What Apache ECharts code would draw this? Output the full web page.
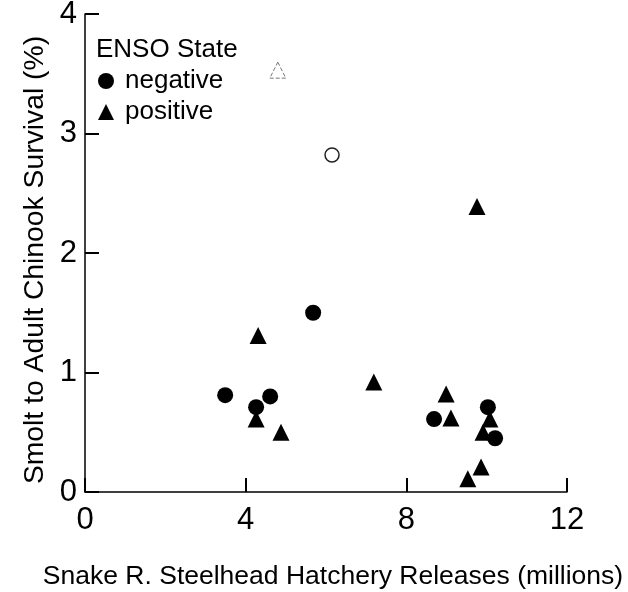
<!DOCTYPE html>
<html>
<head>
<meta charset="utf-8">
<script src="https://cdn.jsdelivr.net/npm/echarts@6/dist/echarts.min.js"></script>
<style>
  html, body { margin: 0; padding: 0; background: #fff; }
  #chart { width: 628px; height: 592px; }
</style>
</head>
<body>
<div id="chart"></div>
<script>
// releases (millions) and survival (%)
var negX = [3.49, 4.26, 4.61, 5.68, 8.69, 10.03, 10.21];
var negY = [0.81, 0.71, 0.80, 1.50, 0.61, 0.71, 0.45];
var posX = [4.31, 4.26, 4.88, 7.19, 8.99, 9.11, 9.76, 9.86, 9.53, 10.08, 9.91];
var posY = [1.31, 0.61, 0.50, 0.92, 0.82, 0.62, 2.39, 0.21, 0.11, 0.61, 0.50];
// open (hollow) points
var openCircle = [[6.15, 2.82]];
var openTriangle = [[4.80, 3.53]];

function pairs(xs, ys) {
  return xs.map(function (x, i) { return [x, ys[i]]; });
}

var font = 'Liberation Sans, Arial, sans-serif';
var myChart = echarts.init(document.getElementById('chart'));

myChart.setOption({
  animation: false,
  textStyle: { fontFamily: font, color: '#000' },
  grid: { left: 85, right: 61, top: 14, bottom: 100, containLabel: false, outerBoundsMode: 'none' },
  title: {
    text: 'ENSO State',
    left: 91, top: 32,
    textStyle: { fontFamily: font, fontSize: 26, fontWeight: 'normal', color: '#000' }
  },
  legend: {
    orient: 'vertical',
    left: 93, top: 63,
    itemWidth: 16, itemHeight: 16, itemGap: 5,
    textStyle: { fontFamily: font, fontSize: 26, color: '#000', padding: [0, 0, 0, 6] },
    data: [
      { name: 'negative', icon: 'circle' },
      { name: 'positive', icon: 'triangle' }
    ]
  },
  xAxis: {
    type: 'value',
    min: 0, max: 12, interval: 4,
    name: 'Snake R. Steelhead Hatchery Releases (millions)',
    nameLocation: 'middle', nameGap: 71,
    nameTextStyle: { fontFamily: font, fontSize: 26.5, color: '#000', padding: [0, 0, 0, 14] },
    axisLine: { lineStyle: { color: '#000', width: 1.5 } },
    axisTick: { inside: true, length: 14, lineStyle: { color: '#000', width: 2 } },
    axisLabel: { fontSize: 31, color: '#000', margin: 13 },
    splitLine: { show: false }
  },
  yAxis: {
    type: 'value',
    min: 0, max: 4, interval: 1,
    name: 'Smolt to Adult Chinook Survival (%)',
    nameLocation: 'middle', nameGap: 36,
    nameTextStyle: { fontFamily: font, fontSize: 28.3, color: '#000', padding: [0, 14, 0, 0] },
    axisLine: { show: true, lineStyle: { color: '#000', width: 1.5 } },
    axisTick: { show: true, inside: true, length: 14, lineStyle: { color: '#000', width: 2 } },
    axisLabel: { fontSize: 31, color: '#000', margin: 8 },
    splitLine: { show: false }
  },
  series: [
    {
      name: 'negative', type: 'scatter', symbol: 'circle', symbolSize: 16,
      itemStyle: { color: '#000', opacity: 1 },
      data: pairs(negX, negY)
    },
    {
      name: 'positive', type: 'scatter', symbol: 'triangle', symbolSize: 17,
      itemStyle: { color: '#000', opacity: 1 },
      data: pairs(posX, posY)
    },
    {
      name: 'open circle', type: 'scatter', symbol: 'circle', symbolSize: 14,
      itemStyle: { color: '#fff', borderColor: '#222', borderWidth: 1.5, opacity: 1 },
      data: openCircle
    },
    {
      name: 'open triangle', type: 'scatter', symbol: 'triangle', symbolSize: 16,
      itemStyle: { color: '#fff', borderColor: '#777', borderWidth: 1, borderType: 'dashed', opacity: 1 },
      data: openTriangle
    }
  ]
});
</script>
</body>
</html>
